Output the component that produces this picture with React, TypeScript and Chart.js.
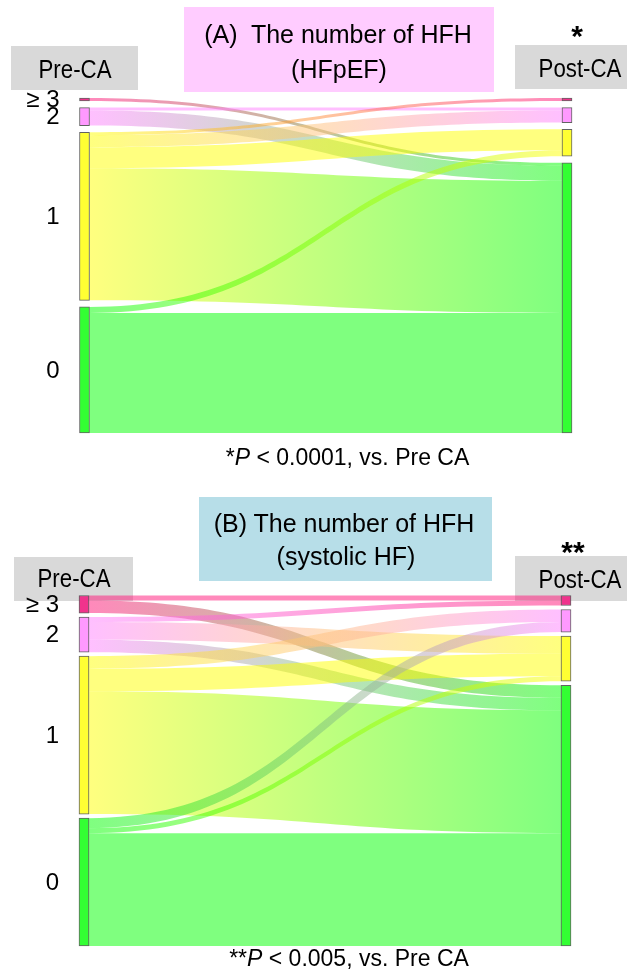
import React, { useEffect, useRef } from 'react';
import { Chart, registerables } from 'chart.js';

Chart.register(...registerables);

// ---------- data ----------
const LEVELS = ['≥ 3', '2', '1', '0'];
const NODE_COLORS = ['#f0338c', '#ff99ff', '#ffff33', '#33ff33'];
const FLOW_RGB = [
  [255, 20, 120],
  [255, 128, 255],
  [255, 255, 0],
  [0, 255, 0],
];

// rows: number of HFH before CA (≥3, 2, 1, 0); columns: after CA (≥3, 2, 1, 0)
const HFPEF_FLOWS = [
  [0, 0, 0, 1],
  [0, 1, 0, 5],
  [1, 4, 7, 44],
  [0, 0, 2, 40],
];
const SYSTOLIC_FLOWS = [
  [2, 0, 0, 5],
  [2, 0, 7, 5],
  [0, 5, 9, 49],
  [0, 4, 2, 45],
];

const HFPEF_TITLE = ['(A)  The number of HFH', '(HFpEF)'];
const SYSTOLIC_TITLE = ['(B) The number of HFH', '(systolic HF)'];
const AXIS_LABELS = ['Pre-CA', 'Post-CA'];

// ---------- helpers ----------
const FONT = '"Liberation Sans", Arial, Helvetica, sans-serif';
const NODE_W = 10;
const FLOW_ALPHA = 0.5;

function rowSums(m: number[][]) {
  return m.map((r) => r.reduce((a, b) => a + b, 0));
}
function colSums(m: number[][]) {
  return m[0].map((_, j) => m.reduce((a, r) => a + r[j], 0));
}
function extents(totals: number[], gap: number) {
  let acc = 0;
  return totals.map((t) => {
    const s = acc;
    acc += t + gap;
    return [s, s + t];
  });
}
function rgba(c: number[], a: number) {
  return `rgba(${c[0]},${c[1]},${c[2]},${a})`;
}

function makePlugin(flows: number[][], gap: number) {
  const pre = extents(rowSums(flows), gap);
  const post = extents(colSums(flows), gap);
  return {
    id: 'sankeyFlows',
    beforeDatasetsDraw(chart: any) {
      const { ctx } = chart;
      const xs = chart.scales.x;
      const ys = chart.scales.y;
      const x0 = xs.getPixelForValue(0) + NODE_W / 2;
      const x1 = xs.getPixelForValue(1) - NODE_W / 2;
      const xm = (x0 + x1) / 2;
      const outOff = pre.map((e) => e[0]);
      const inOff = post.map((e) => e[0]);
      ctx.save();
      for (let i = 0; i < flows.length; i++) {
        for (let j = 0; j < flows[i].length; j++) {
          const v = flows[i][j];
          if (!v) continue;
          const s0 = ys.getPixelForValue(outOff[i]);
          const s1 = ys.getPixelForValue(outOff[i] + v);
          const t0 = ys.getPixelForValue(inOff[j]);
          const t1 = ys.getPixelForValue(inOff[j] + v);
          outOff[i] += v;
          inOff[j] += v;
          const g = ctx.createLinearGradient(x0, 0, x1, 0);
          g.addColorStop(0, rgba(FLOW_RGB[i], FLOW_ALPHA));
          g.addColorStop(1, rgba(FLOW_RGB[j], FLOW_ALPHA));
          ctx.fillStyle = g;
          ctx.beginPath();
          ctx.moveTo(x0, s0);
          ctx.bezierCurveTo(xm, s0, xm, t0, x1, t0);
          ctx.lineTo(x1, t1);
          ctx.bezierCurveTo(xm, t1, xm, s1, x0, s1);
          ctx.closePath();
          ctx.fill();
        }
      }
      ctx.restore();
    },
    afterDatasetsDraw(chart: any) {
      const { ctx } = chart;
      const xs = chart.scales.x;
      const ys = chart.scales.y;
      const lx = xs.getPixelForValue(0) - NODE_W / 2 - 20;
      ctx.save();
      ctx.fillStyle = '#000';
      ctx.font = `24px ${FONT}`;
      ctx.textAlign = 'right';
      ctx.textBaseline = 'middle';
      LEVELS.forEach((lab, i) => {
        const y = ys.getPixelForValue((pre[i][0] + pre[i][1]) / 2);
        ctx.fillText(lab, lx, y + 1);
      });
      ctx.restore();
    },
  };
}

function SankeyCanvas({ flows, gap, top, height, padding }: any) {
  const ref = useRef<HTMLCanvasElement>(null);
  useEffect(() => {
    const pre = extents(rowSums(flows), gap);
    const post = extents(colSums(flows), gap);
    const total = rowSums(flows).reduce((a, b) => a + b, 0) + gap * (LEVELS.length - 1);
    const datasets = LEVELS.map((lab, i) => ({
      label: lab,
      data: [
        { x: 0, y: pre[i] },
        { x: 1, y: post[i] },
      ],
      backgroundColor: NODE_COLORS[i],
      borderColor: 'rgba(70,70,70,0.85)',
      borderWidth: 1,
      borderSkipped: false,
      barThickness: NODE_W,
      grouped: false,
      clip: false,
    }));
    const chart = new Chart(ref.current as HTMLCanvasElement, {
      type: 'bar',
      data: { datasets } as any,
      options: {
        animation: false,
        responsive: false,
        maintainAspectRatio: false,
        events: [],
        layout: { padding },
        plugins: {
          legend: { display: false },
          tooltip: { enabled: false },
          title: { display: false },
        },
        scales: {
          x: { type: 'linear', min: 0, max: 1, offset: false, display: false },
          y: { type: 'linear', min: 0, max: total, reverse: true, display: false },
        },
      } as any,
      plugins: [makePlugin(flows, gap)],
    });
    return () => chart.destroy();
  }, []);
  return (
    <canvas
      ref={ref}
      width={631}
      height={height}
      style={{ position: 'absolute', left: 0, top, width: 631, height }}
    />
  );
}

function Txt({ x, baseline, size, children, style }: any) {
  return (
    <div
      style={{
        position: 'absolute',
        left: x,
        top: baseline - 0.8465 * size,
        fontSize: size,
        lineHeight: 1,
        fontFamily: FONT,
        whiteSpace: 'pre',
        color: '#000',
        transform: 'translateX(-50%)',
        ...style,
      }}
    >
      {children}
    </div>
  );
}

function Box({ left, top, width, height, bg }: any) {
  return <div style={{ position: 'absolute', left, top, width, height, background: bg }} />;
}

function CondLabel({ x, baseline, text }: any) {
  return (
    <Txt x={x} baseline={baseline} size={25} style={{ transform: 'translateX(-50%) scaleX(0.89)' }}>
      {text}
    </Txt>
  );
}

export default function App() {
  return (
    <div
      style={{
        position: 'absolute',
        left: 0,
        top: 0,
        width: 631,
        height: 975,
        background: '#fff',
        overflow: 'hidden',
      }}
    >
      {/* header boxes (behind the charts) */}
      <Box left={184} top={7} width={310} height={85} bg="#ffccff" />
      <Box left={11} top={46} width={127} height={44} bg="#d9d9d9" />
      <Box left={515} top={45} width={112} height={44} bg="#d9d9d9" />
      <Box left={199} top={497} width={293} height={84} bg="#b7dee8" />
      <Box left={14} top={557} width={119} height={44} bg="#d9d9d9" />
      <Box left={515} top={556} width={112} height={45} bg="#d9d9d9" />

      <SankeyCanvas
        flows={HFPEF_FLOWS}
        gap={2.2}
        top={0}
        height={480}
        padding={{ left: 84.5, right: 64, top: 98, bottom: 47 }}
      />
      <SankeyCanvas
        flows={SYSTOLIC_FLOWS}
        gap={1.6}
        top={480}
        height={495}
        padding={{ left: 84, right: 65, top: 115.5, bottom: 29 }}
      />

      {/* Panel A texts */}
      <Txt x={338} baseline={43.5} size={25}>{HFPEF_TITLE[0]}</Txt>
      <Txt x={339} baseline={78.5} size={25}>{HFPEF_TITLE[1]}</Txt>
      <CondLabel x={74.5} baseline={78} text={AXIS_LABELS[0]} />
      <CondLabel x={580} baseline={77} text={AXIS_LABELS[1]} />
      <Txt x={577} baseline={46} size={30} style={{ fontWeight: 'bold' }}>*</Txt>
      <Txt x={347.5} baseline={465} size={23}>
        *<i>P</i> &lt; 0.0001, vs. Pre CA
      </Txt>

      {/* Panel B texts */}
      <Txt x={344} baseline={532} size={25}>{SYSTOLIC_TITLE[0]}</Txt>
      <Txt x={346} baseline={565} size={25}>{SYSTOLIC_TITLE[1]}</Txt>
      <CondLabel x={74} baseline={587} text={AXIS_LABELS[0]} />
      <CondLabel x={580} baseline={588} text={AXIS_LABELS[1]} />
      <Txt x={573} baseline={562} size={30} style={{ fontWeight: 'bold' }}>**</Txt>
      <Txt x={349} baseline={966} size={23}>
        **<i>P</i> &lt; 0.005, vs. Pre CA
      </Txt>
    </div>
  );
}
